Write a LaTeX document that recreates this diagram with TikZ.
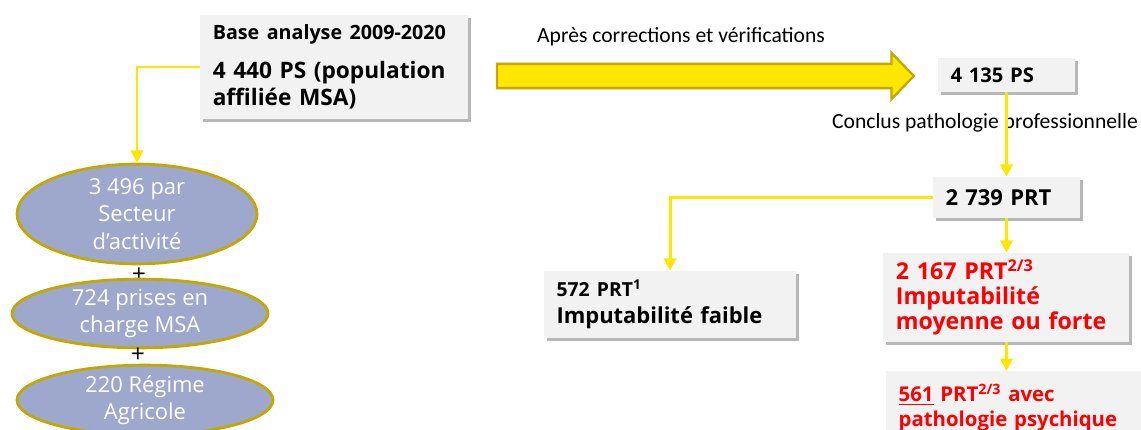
\documentclass[tikz,border=0pt]{standalone}
\usepackage{fontspec}
\setmainfont{Open Sans}
\newfontfamily\notefont{Carlito}
\usepackage{tikz}
\usetikzlibrary{arrows.meta, positioning, shapes.geometric, shapes.arrows, shadows}
\usepackage{xcolor}
\definecolor{msayellow}{HTML}{FFE600}
\definecolor{msaolive}{HTML}{C2A800}
\definecolor{msablue}{HTML}{9EA8CC}
\definecolor{boxgrey}{HTML}{F2F2F2}
\definecolor{msared}{HTML}{FF0000}
\hyphenpenalty=10000

\tikzset{
  box/.style={fill=boxgrey, drop shadow={shadow xshift=1.6pt, shadow yshift=-1.6pt, fill=black!40, opacity=0.7},
              inner xsep=7pt, inner ysep=3pt, align=left, font=\bfseries},
  popul/.style={ellipse, draw=msaolive, line width=1.6pt, fill=msablue, text=white,
              align=center, inner sep=0pt, font=\fontsize{12.5}{15.5}\selectfont},
  link/.style={draw=msayellow, line width=1.7pt, -{Triangle[length=7pt, width=7pt]}},
  note/.style={font=\notefont\fontsize{12.3}{14}\selectfont, inner sep=1pt},
  bigarrow/.style={single arrow, draw=msaolive, fill=msayellow, line width=1.3pt,
              inner xsep=0pt, inner ysep=0.22cm, minimum height=8.34cm,
              single arrow head extend=0.22cm, single arrow tip angle=92}
}

\begin{document}
\begin{tikzpicture}[x=0.02cm, y=-0.02cm]
      \useasboundingbox (0,0) rectangle (1141,429);
      \clip (0,0) rectangle (1141,429);

      % point de depart
      \node[box, minimum width=5.36cm, minimum height=2.08cm, text width=4.85cm,
            font=\bfseries\fontsize{12.9}{15.3}\selectfont] (base) at (334,67)
        {\fontsize{11.2}{12}\selectfont Base analyse 2009-2020\\[7pt]
         \fontsize{12.9}{15.3}\selectfont 4 440 PS (population\\ affiliée MSA)};

      % repartition
      \node[popul, minimum width=4.8cm, minimum height=1.84cm] (sect) at (137,214)
        {3 496 par\\ Secteur\\ d’activité};
      \node[font=\fontsize{14}{16}\selectfont, inner sep=0pt] (plus1) at (139,275) {+};
      \node[popul, minimum width=5.12cm, minimum height=1.26cm] (msa) at (140,313.5)
        {724 prises en\\ charge MSA};
      \node[font=\fontsize{14}{16}\selectfont, inner sep=0pt] (plus2) at (138,355) {+};
      \node[popul, minimum width=5.12cm, minimum height=1.28cm] (agri) at (145,400)
        {220 Régime\\ Agricole};

      % corrections
      \node[note] (corrlbl) at (681,37) {Après corrections et vérifications};
      \node[bigarrow] (corr) at (699.5,76) {};

      \node[box, minimum width=2.74cm, minimum height=0.68cm, text width=2.24cm,
            font=\bfseries\fontsize{11.5}{14}\selectfont] (ps) at (1006.5,75) {4 135 PS};
      \node[note] (concl) at (985,123) {Conclus pathologie professionnelle};
      \node[box, minimum width=2.94cm, minimum height=0.82cm, text width=2.44cm,
            font=\bfseries\fontsize{12.5}{15}\selectfont] (prt) at (1006.5,197.5) {2 739 PRT};

      % imputabilite
      \node[box, minimum width=5.04cm, minimum height=1.34cm, text width=4.54cm,
            font=\bfseries\fontsize{12.5}{15.3}\selectfont] (faible) at (670,304.5)
        {\fontsize{11}{13}\selectfont 572 PRT\textsuperscript{1}\\
         \fontsize{12.5}{15.3}\selectfont Imputabilité faible};
      \node[box, anchor=west, minimum width=4.92cm, minimum height=1.78cm, text width=4.42cm, text=msared,
            font=\bfseries\fontsize{13.2}{14.2}\selectfont] (moyen) at (883,297.5)
        {2 167 PRT\textsuperscript{2/3}\\ Imputabilité\\ moyenne ou forte};
      \node[box, anchor=west, minimum width=4.84cm, minimum height=1.45cm, text width=4.6cm, text=msared,
            font=\bfseries\fontsize{11.6}{14}\selectfont] (psy) at (886,407.5)
        {\underline{561} PRT\textsuperscript{2/3} avec\\ pathologie psychique};

      \draw[link] (base.west) -| (sect.north);
      \draw[link] (ps.south) -- (prt.north);
      \draw[link] (prt.west) -| (faible.north);
      \draw[link] (prt.south) -- (moyen.north -| prt.south);
      \draw[link] (moyen.south -| prt.south) -- (psy.north -| prt.south);
\end{tikzpicture}
\end{document}
